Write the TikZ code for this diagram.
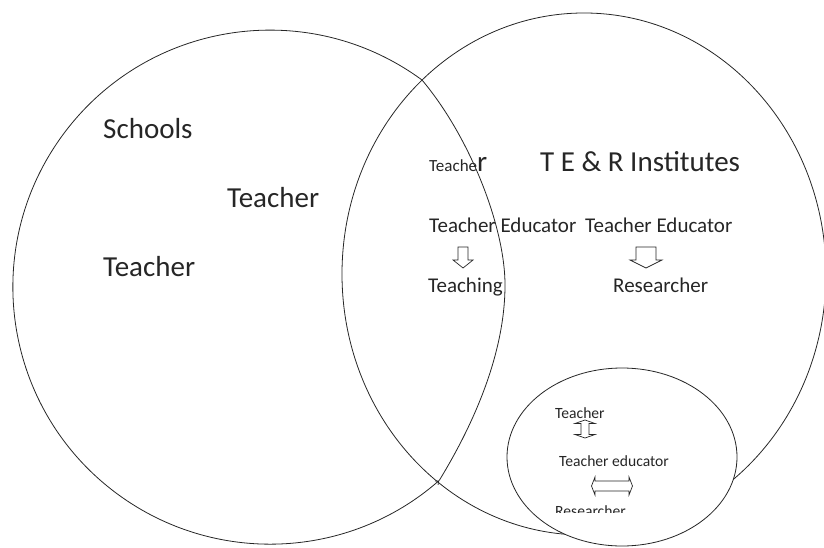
\documentclass[tikz,border=0pt]{standalone}
\usepackage{fontspec}
\setmainfont{Carlito}
\usetikzlibrary{arrows.meta}
\tikzset{
  ring/.style={draw=black!85, line width=0.8pt},
  txt/.style={inner sep=0pt, anchor=base west, text=black!85},
  bigtxt/.style={txt, font=\fontsize{29}{33}\selectfont},
  midtxt/.style={txt, font=\fontsize{21}{25}\selectfont},
  smalltxt/.style={txt, font=\fontsize{15.6}{18}\selectfont},
  hollow/.style={draw=black!85, line width=0.7pt, fill=white},
  % shaft half width, head half width, length, head length
  pics/downarrow/.style n args={4}{code={
    \draw[hollow] (-#1,0) -- (#1,0) -- (#1,{#4-#3}) -- (#2,{#4-#3}) -- (0,-#3)
      -- (-#2,{#4-#3}) -- (-#1,{#4-#3}) -- cycle;}},
  pics/twowayarrow/.style n args={4}{code={
    \draw[hollow] (0,{#3/2}) -- (#2,{#3/2-#4}) -- (#1,{#3/2-#4}) -- (#1,{#4-#3/2})
      -- (#2,{#4-#3/2}) -- (0,{-#3/2}) -- (-#2,{#4-#3/2}) -- (-#1,{#4-#3/2})
      -- (-#1,{#3/2-#4}) -- (-#2,{#3/2-#4}) -- cycle;}}
}
\begin{document}
\begin{tikzpicture}[x=1pt,y=1pt]
  \clip (0,0) rectangle (824,547);

  % schools circle
  \coordinate (schtop) at (422,467);
  \coordinate (schbot) at (439.2,66.5);
  \coordinate (schmid) at (505,262);
  \draw[ring, -{Straight Barb[length=3pt,width=5pt]}] (schtop)
    arc[start angle=53.7, end angle=311.2, radius=257pt];
  \draw[ring] (schbot) .. controls (475,125) and (505,195) .. (schmid)
    .. controls (505,320) and (470,410) .. (schtop);

  % institutes circle and the small one
  \draw[ring] (584,273) ellipse[x radius=242pt, y radius=261pt];
  \draw[ring, fill=white] (622,90) ellipse[x radius=115pt, y radius=89pt];

  % left side
  \node[bigtxt] (schools) at (103,408) {Schools};
  \node[bigtxt] (tchmid) at (227,339) {Teacher};
  \node[bigtxt] (tchleft) at (103,271) {Teacher};

  % overlap and right side
  \node[txt] (tchover) at (429,375) {\fontsize{17}{20}\selectfont Teache\fontsize{29}{33}\selectfont r};
  \node[bigtxt] (inst) at (540,375) {T E \& R Institutes};
  \node[midtxt] (eduleft) at (429,314) {Teacher Educator};
  \node[midtxt] (eduright) at (585,314) {Teacher Educator};
  \pic at (463,300) {downarrow={5}{10}{21}{8}};
  \pic at (646,300) {downarrow={10}{16}{21}{8}};
  \node[midtxt] (teaching) at (428,255) {Teaching};
  \node[midtxt] (research) at (613,255) {Researcher};

  % inside the small circle
  \node[smalltxt] (tchin) at (555,129) {Teacher};
  \pic at (585,118) {twowayarrow={4}{10}{18}{3.5}};
  \node[smalltxt] (eduin) at (559,81) {Teacher educator};
  \pic[rotate=90] at (612,61) {twowayarrow={5}{9}{41}{3.5}};
  \begin{scope}
    \clip (500,35) rectangle (700,60);
    \node[smalltxt] (resin) at (555,31) {Researcher};
  \end{scope}
\end{tikzpicture}
\end{document}
